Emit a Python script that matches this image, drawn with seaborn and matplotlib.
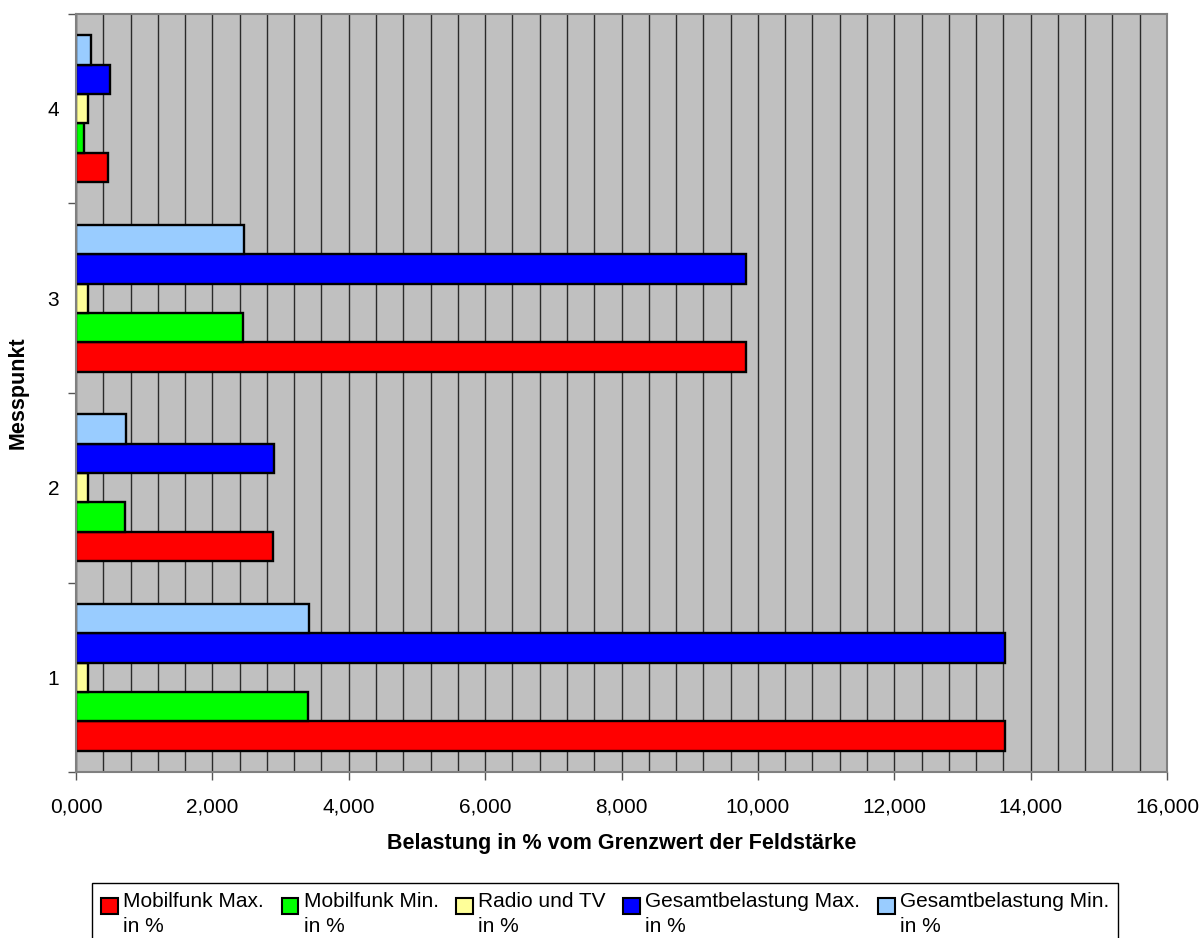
import matplotlib
matplotlib.use("Agg")
import matplotlib.pyplot as plt
from matplotlib.ticker import MultipleLocator, FixedLocator, FuncFormatter
from matplotlib.legend_handler import HandlerPatch
from matplotlib.patches import Rectangle
import seaborn as sns
import pandas as pd

categories = ["1", "2", "3", "4"]
series_names = ["Mobilfunk Max.\nin %", "Mobilfunk Min.\nin %", "Radio und TV\nin %",
                "Gesamtbelastung Max.\nin %", "Gesamtbelastung Min.\nin %"]
mobil_max = [13.63, 2.89, 9.83, 0.47]
mobil_min = [3.40, 0.72, 2.45, 0.11]
radio_tv = [0.18, 0.18, 0.18, 0.18]
gesamt_max = [13.63, 2.90, 9.83, 0.50]
gesamt_min = [3.41, 0.74, 2.46, 0.22]
colors = ["#FF0000", "#00FF00", "#FFFF99", "#0000FF", "#99CCFF"]

rows = []
for name, vals in zip(series_names, [mobil_max, mobil_min, radio_tv, gesamt_max, gesamt_min]):
    for c, v in zip(categories, vals):
        rows.append({"Messpunkt": c, "Serie": name, "Wert": v})
df = pd.DataFrame(rows)

sns.set_theme(style="white")
plt.rcParams["font.family"] = ["Liberation Sans", "DejaVu Sans"]
plt.rcParams["text.color"] = "black"
plt.rcParams["axes.labelcolor"] = "black"
plt.rcParams["xtick.color"] = "black"
plt.rcParams["ytick.color"] = "black"

fig = plt.figure(figsize=(12.02, 9.38), dpi=100)
ax = fig.add_axes([76/1202, 1-772/938, (1167-76)/1202, (772-14)/938])

sns.barplot(data=df, x="Wert", y="Messpunkt", hue="Serie", order=categories,
            hue_order=series_names, palette=colors, orient="h", width=0.776,
            edgecolor="black", linewidth=1.7, saturation=1, ax=ax, errorbar=None)

ax.set_facecolor("#C0C0C0")
ax.set_xlim(0, 16)
ax.set_ylim(-0.5, 3.5)
ax.set_axisbelow(True)

ax.xaxis.set_major_locator(MultipleLocator(2))
ax.xaxis.set_minor_locator(MultipleLocator(0.4))
ax.xaxis.set_major_formatter(FuncFormatter(lambda x, p: f"{x:.3f}".replace(".", ",")))
ax.grid(True, axis="x", which="both", color="#2a2a2a", linewidth=1.0)
ax.grid(False, axis="y")
ax.tick_params(axis="x", which="major", direction="out", length=6, width=1,
               color="#555555", labelcolor="black", labelsize=15, pad=12, bottom=True)
ax.tick_params(axis="x", which="minor", length=0)

ax.yaxis.set_major_locator(FixedLocator([0, 1, 2, 3]))
ax.set_yticklabels(categories)
ax.yaxis.set_minor_locator(FixedLocator([-0.5, 0.5, 1.5, 2.5, 3.5]))
ax.tick_params(axis="y", which="major", length=0, labelsize=15, labelcolor="black",
               pad=12, left=True)
ax.tick_params(axis="y", which="minor", direction="out", length=6, width=1,
               color="#555555", left=True)

for s in ax.spines.values():
    s.set_color("#808080")
    s.set_linewidth(1.5)

ax.set_xlabel("Belastung in % vom Grenzwert der Feldstärke", fontsize=15.5,
              fontweight="bold", labelpad=12, color="black")
ax.set_ylabel("Messpunkt", fontsize=15.5, fontweight="bold", color="black",
              va="center")
ax.yaxis.set_label_coords((18 - 76) / 1091, 0.5)


def top_square(legend, orig_handle, xdescent, ydescent, width, height, fontsize):
    size = 0.8 * fontsize
    return Rectangle((-xdescent, -ydescent + height - size), size, size)


ax.get_legend().remove()
handles, labels = ax.get_legend_handles_labels()
leg = fig.legend(handles, labels, loc="upper left",
                 bbox_to_anchor=(92/1202, 1-883/938), ncol=5, fontsize=15,
                 frameon=True, fancybox=False, edgecolor="black", framealpha=1,
                 handlelength=0.8, handleheight=2.2, handletextpad=0.25,
                 columnspacing=0.85, borderpad=0.45, borderaxespad=0,
                 handler_map={Rectangle: HandlerPatch(patch_func=top_square)})
leg.get_frame().set_linewidth(1.0)
for t in leg.get_texts():
    t.set_linespacing(1.35)
for h in leg.legend_handles:
    h.set_edgecolor("black")
    h.set_linewidth(1.5)

fig.savefig("out.png", dpi=100)
